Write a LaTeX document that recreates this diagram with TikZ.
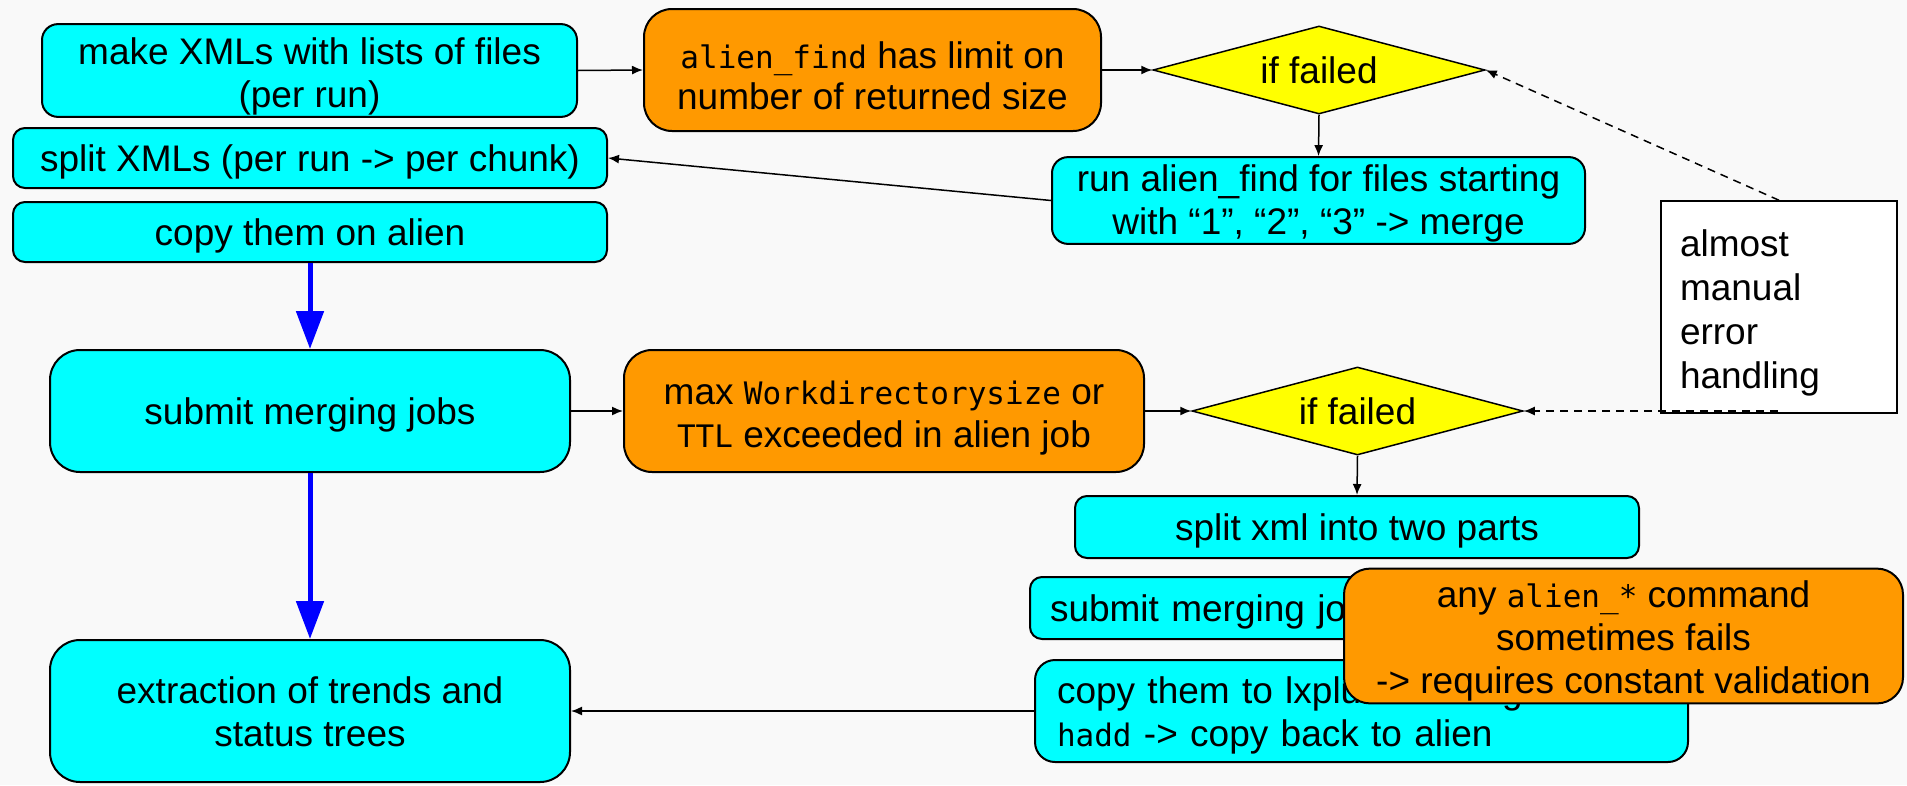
\documentclass[tikz,border=0pt]{standalone}
\usepackage{fontspec}
\setmainfont{Liberation Sans}
\newfontfamily\monof{DejaVu Sans Mono}
\usetikzlibrary{shapes.geometric,arrows.meta}
\definecolor{bg}{RGB}{249,249,249}
\definecolor{cyanbox}{RGB}{0,255,255}
\definecolor{orangebox}{RGB}{255,153,0}
\definecolor{yellowbox}{RGB}{255,255,0}
\newcommand{\monotxt}[1]{{\fontsize{31pt}{43pt}\monof #1}}
\newcommand{\fs}[1]{\rule{0pt}{#1pt}}
\newcommand{\ls}{\rule[-9.8pt]{0pt}{0pt}}
\begin{document}
\begin{tikzpicture}[x=1pt,y=-1pt,
  every node/.style={font=\fontsize{37pt}{43pt}\selectfont, inner sep=0pt},
  one/.style={execute at begin node={\rule{0pt}{37pt}}, execute at end node={\rule[-9.8pt]{0pt}{0pt}}},
  box/.style={draw=black, line width=2pt, align=center},
  cbox/.style={box, fill=cyanbox},
  obox/.style={box, fill=orangebox},
  dia/.style={diamond, draw=black, line width=1.5pt, fill=yellowbox, aspect=3.77},
  sz/.style 2 args={minimum width=#1pt, minimum height=#2pt},
  rc/.style={rounded corners=#1pt},
  arr/.style={line width=1.5pt, -{Latex[length=11pt,width=9pt]}},
  bluearr/.style={draw=blue, line width=5pt, -{Triangle[length=38pt,width=27pt]}},
  dasharr/.style={line width=1.5pt, dash pattern=on 8pt off 6pt, -{Latex[length=11pt,width=9pt]}},
]
\fill[bg] (0,0) rectangle (1907,785);
\useasboundingbox (0,0) rectangle (1907,785);

% top row
\node[cbox, rc=16, sz={535}{83}] (a) at (309.5,70.5) {\fs{40}make XMLs with lists of files\\(per run)\ls};
\node[obox, rc=28, sz={457}{122}] (b) at (872.5,70) {\fs{47}\monotxt{alien\_find} has limit on\\[-2pt]number of returned size\ls};
\node[dia, minimum width=332pt, minimum height=88pt] (d1) at (1319,70) {if failed};
\node[cbox, one, rc=12, sz={594}{60}] (c) at (310,158) {split XMLs (per run -> per chunk)};
\node[cbox, one, rc=12, sz={594}{60}] (d) at (310,232) {copy them on alien};
\node[cbox, rc=16, sz={533}{83}] (e) at (1318.5,200.5) {\fs{34}run alien\_find for files starting\\with “1”, “2”, “3” -> merge\ls};

% note
\node[draw=black, line width=1.5pt, fill=white, font=\fontsize{37pt}{44pt}\selectfont, sz={236}{212}, text width=198pt, align=left] (note) at (1779,307) {\fs{40}almost\\manual\\error\\handling\ls};

% middle row
\node[cbox, one, rc=30, sz={520}{122}] (f) at (310,411) {submit merging jobs};
\node[obox, rc=28, sz={520}{122}] (g) at (884,411) {\fs{40}max \monotxt{Workdirectorysize} or\\\monotxt{TTL} exceeded in alien job\ls};
\node[dia, minimum width=331pt, minimum height=88pt] (d2) at (1357.5,411) {if failed};
\node[cbox, one, rc=12, sz={564}{62}] (h) at (1357,527) {split xml into two parts};

% bottom
\node[cbox, one, rc=12, sz={420}{62}, text width=380pt, align=left] (i) at (1240,608) {submit merging jobs};
\node[cbox, rc=20, sz={653}{102}, text width=609pt, align=left] (j) at (1361.5,711) {\fs{38}copy them to lxplus -> merge with\\\monotxt{hadd} -> copy back to alien\ls};
\node[obox, rc=26, sz={559}{122}] (k) at (1623.5,636) {\fs{39}any \monotxt{alien\_*} command\\sometimes fails\\-> requires constant validation\ls};
\node[cbox, rc=30, sz={520}{142}] (l) at (310,711) {\fs{38}extraction of trends and\\status trees\ls};

\coordinate (nb) at (1778,411);

% connectors
\draw[arr] (a.east) -- (b.west);
\draw[arr] (b.east) -- (d1.west);
\draw[arr] (d1.south) -- (e.north);
\draw[arr] (e.west) -- (c.east);
\draw[bluearr] (d.south) -- (f.north);
\draw[arr] (f.east) -- (g.west);
\draw[arr] (g.east) -- (d2.west);
\draw[arr] (d2.south) -- (h.north);
\draw[bluearr] (f.south) -- (l.north);
\draw[arr] (j.west) -- (l.east);
\draw[dasharr] (note.north) -- (d1.east);
\draw[dasharr] (nb) -- (d2.east);
\end{tikzpicture}
\end{document}
